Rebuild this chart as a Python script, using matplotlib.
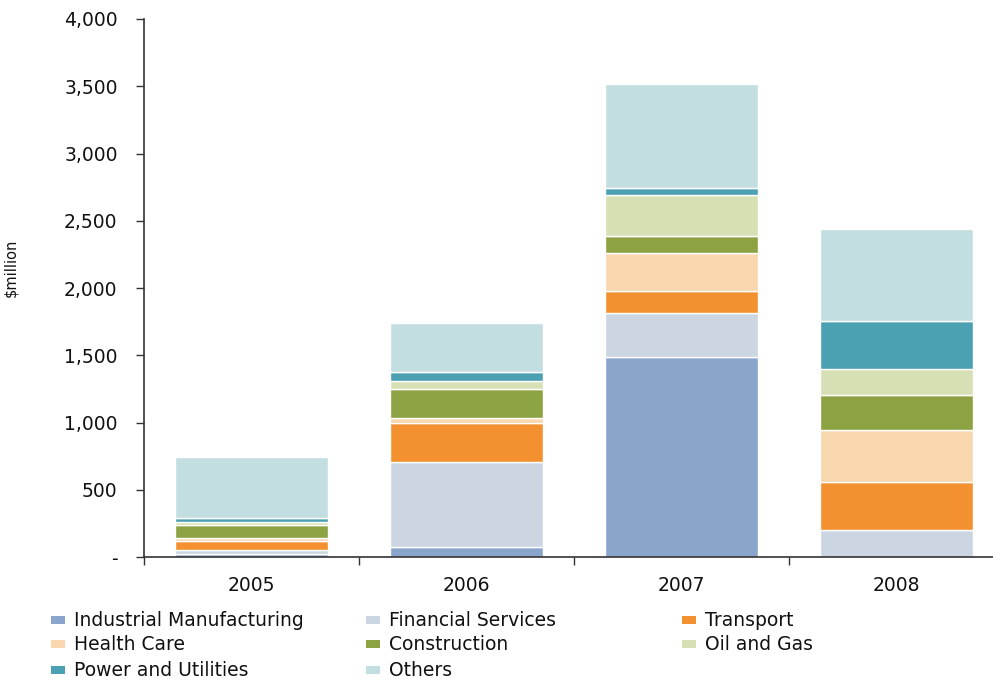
import matplotlib
matplotlib.use('Agg')
import matplotlib.pyplot as plt
from matplotlib.patches import Rectangle
from matplotlib.ticker import FuncFormatter, FixedLocator
import numpy as np

plt.rcParams['font.family'] = ['DejaVu Sans']

# Deal value by sector, $million
years = ['2005', '2006', '2007', '2008']
sectors = ['Industrial Manufacturing', 'Financial Services', 'Transport',
           'Health Care', 'Construction', 'Oil and Gas',
           'Power and Utilities', 'Others']
industrial = [25, 75, 1490, 0]
financial = [30, 630, 325, 200]
transport = [65, 290, 165, 360]
health_care = [22, 37, 280, 385]
construction = [97, 215, 128, 262]
oil_gas = [22, 63, 300, 193]
power = [30, 64, 57, 357]
others = [452, 367, 775, 680]
series = [industrial, financial, transport, health_care,
          construction, oil_gas, power, others]

colors = ['#8AA5CC', '#CBD6E2', '#F39131', '#F8D7AF',
          '#8DA243', '#D7E0B5', '#4BA0B2', '#C3DEE1']

W, H = 993, 680
fig = plt.figure(figsize=(W / 100, H / 100), dpi=100)
fig.patch.set_facecolor('white')
# axes runs a little past the right edge of the canvas
ax = fig.add_axes([144 / W, (H - 557) / H, 860 / W, 538 / H])

x = np.arange(len(years))
bottom = np.zeros(len(years))
for vals, c in zip(series, colors):
    ax.bar(x, vals, width=0.71, bottom=bottom, color=c,
           edgecolor='white', linewidth=1.0)
    bottom += np.array(vals)

ax.set_xlim(-0.5, len(years) - 0.5)
ax.set_ylim(0, 4000)

for s in ['top', 'right']:
    ax.spines[s].set_visible(False)
for s in ['left', 'bottom']:
    ax.spines[s].set_color('#333333')
    ax.spines[s].set_linewidth(1.2)

# y axis: dash for zero, thousands separators elsewhere
ax.set_yticks(np.arange(0, 4001, 500))
ax.yaxis.set_major_formatter(FuncFormatter(
    lambda v, p: '-' if v == 0 else f'{int(v):,}'))
ax.tick_params(axis='y', direction='out', length=6, width=1.0,
               color='#333333', pad=13, labelsize=13.5, labelcolor='#111111')

# x axis: ticks between categories, labels at the centres
ax.xaxis.set_major_locator(FixedLocator(np.arange(-0.5, len(years), 1.0)))
ax.xaxis.set_major_formatter(FuncFormatter(lambda v, p: ''))
ax.set_xticks(x, minor=True)
ax.set_xticklabels(years, minor=True)
ax.tick_params(axis='x', which='major', direction='out', length=6,
               width=1.0, color='#333333')
ax.tick_params(axis='x', which='minor', length=0, pad=14,
               labelsize=13.5, labelcolor='#111111')

ax.set_ylabel('$million', fontsize=10.5, color='#111111')
ax.yaxis.set_label_coords((18 - 144) / 860, (557 - 268) / 538)

# legend laid out in three fixed columns
col_x = [51, 366, 682]
row_y = [620, 644, 670]
for i, (name, c) in enumerate(zip(sectors, colors)):
    cx = col_x[i % 3]
    cy = row_y[i // 3]
    fig.add_artist(Rectangle((cx / W, (H - cy - 4) / H), 14 / W, 8 / H,
                             transform=fig.transFigure, facecolor=c,
                             edgecolor='none'))
    fig.text((cx + 23) / W, (H - cy) / H, name, fontsize=13.5,
             color='#111111', ha='left', va='center')

fig.savefig('out.png', dpi=100, facecolor='white')
